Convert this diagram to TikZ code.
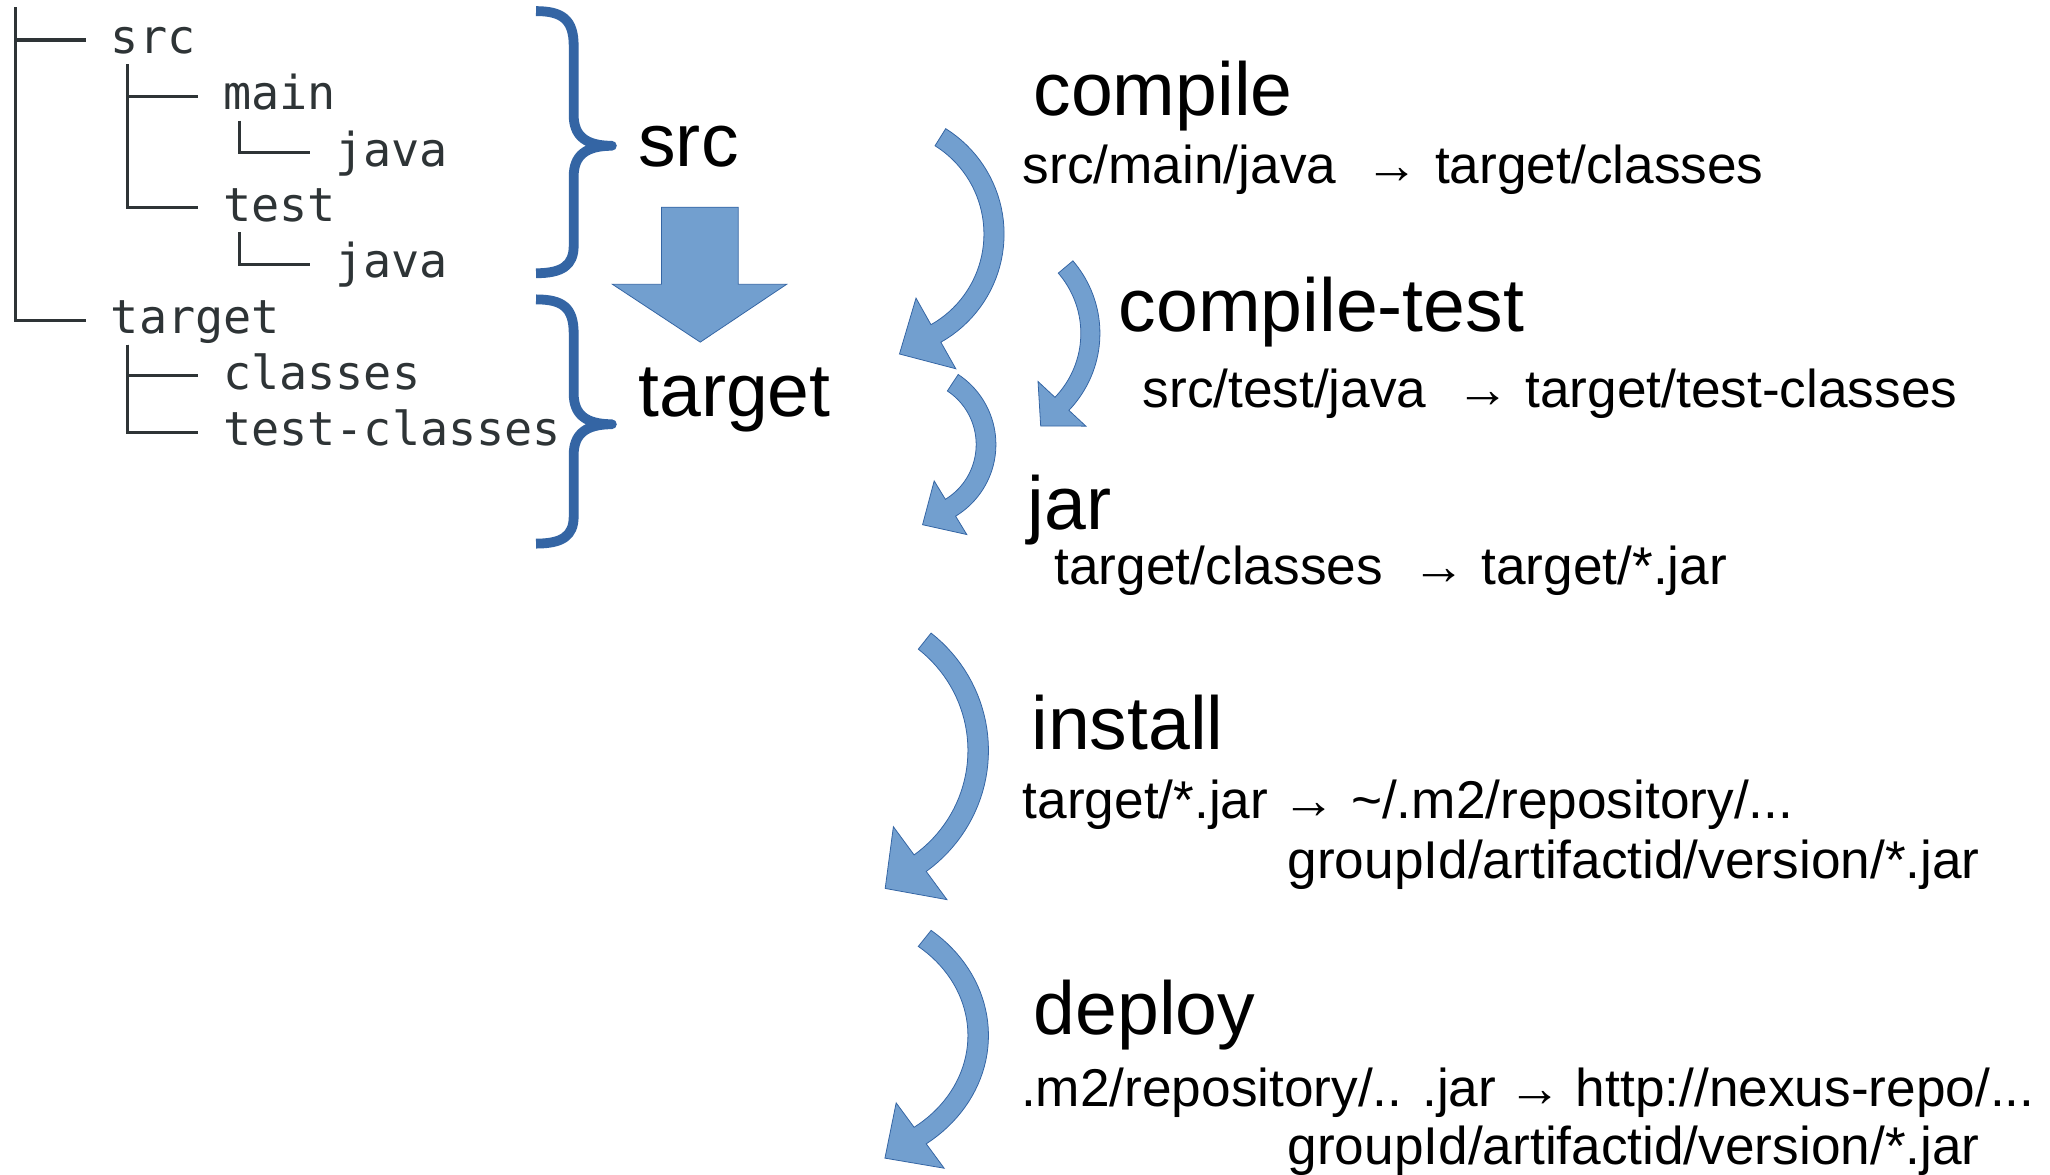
\documentclass[tikz,border=0pt]{standalone}
\usepackage{fontspec}
\setmainfont{Liberation Sans}
\newfontfamily\treefont{DejaVu Sans Mono}
\usetikzlibrary{calc}

\definecolor{treegray}{RGB}{46,52,54}
\definecolor{bracecol}{RGB}{52,101,164}
\definecolor{arrowfill}{RGB}{114,159,207}

% Curved block arrow along an elliptic arc:
% #1,#2 centre; #3,#4 radii of the midline; #5,#6 start/end angle;
% #7 shaft width; #8 head half-width; #9 head length
\newcommand\bentarrow[9]{%
  \pgfmathsetmacro\cvBx{#1+#3*cos(#6)}%
  \pgfmathsetmacro\cvBy{#2+#4*sin(#6)}%
  \pgfmathsetmacro\cvTx{-#3*sin(#6)}%
  \pgfmathsetmacro\cvTy{#4*cos(#6)}%
  \pgfmathsetmacro\cvTn{sqrt(\cvTx*\cvTx+\cvTy*\cvTy)}%
  \pgfmathsetmacro\cvPx{\cvBx+#9*\cvTx/\cvTn}%
  \pgfmathsetmacro\cvPy{\cvBy+#9*\cvTy/\cvTn}%
  \path[bent] plot[domain=#5:#6,samples=40] ({#1+(#3+#7/2)*cos(\x)},{#2+(#4+#7/2)*sin(\x)})
    -- ({#1+(#3+#8)*cos(#6)},{#2+(#4+#8)*sin(#6)})
    -- (\cvPx,\cvPy)
    -- ({#1+(#3-#8)*cos(#6)},{#2+(#4-#8)*sin(#6)})
    -- plot[domain=#6:#5,samples=40] ({#1+(#3-#7/2)*cos(\x)},{#2+(#4-#7/2)*sin(\x)})
    -- cycle;
}

\tikzset{
  every node/.style={inner sep=0pt, outer sep=0pt, anchor=base west},
  phase/.style={font=\fontsize{28.75pt}{34pt}\selectfont},
  flow/.style={font=\fontsize{20.35pt}{24pt}\selectfont},
  flowarrow/.style={font=\fontsize{20.35pt}{24pt}\selectfont, anchor=base},
  dir/.style={font=\treefont\fontsize{17.9pt}{21pt}\selectfont, text=treegray},
  branch/.style={draw=treegray, line width=1.2pt},
  brace/.style={draw=bracecol, line width=3.75pt, line join=round},
  bent/.style={fill=arrowfill, draw=bracecol, line width=0.3pt},
}

\begin{document}
\begin{tikzpicture}[x=0.5pt, y=-0.5pt]
\fill[white] (0,0) rectangle (1568,898);
\useasboundingbox (0,0) rectangle (1568,898);

% directory tree
\coordinate (root) at (12.1,5.5);
\node[dir] (src) at (84.8,41) {src};
\node[dir] (main) at (170.6,84.1) {main};
\node[dir] (mainjava) at (256.4,127) {java};
\node[dir] (test) at (170.6,169.4) {test};
\node[dir] (testjava) at (256.4,212.5) {java};
\node[dir] (target) at (84.8,255.4) {target};
\node[dir] (classes) at (170.6,297.8) {classes};
\node[dir] (testclasses) at (170.6,340.9) {test-classes};

\draw[branch] (root) |- ($(src.base west)+(-19.4,-10.4)$);
\draw[branch] (root) |- ($(target.base west)+(-19.4,-10.4)$);
\draw[branch] ($(src.base west)+(12.6,8.2)$) |- ($(main.base west)+(-19.4,-10.4)$);
\draw[branch] ($(src.base west)+(12.6,8.2)$) |- ($(test.base west)+(-19.4,-10.4)$);
\draw[branch] ($(main.base west)+(12.6,8.2)$) |- ($(mainjava.base west)+(-19.4,-10.4)$);
\draw[branch] ($(test.base west)+(12.6,8.2)$) |- ($(testjava.base west)+(-19.4,-10.4)$);
\draw[branch] ($(target.base west)+(12.6,8.2)$) |- ($(classes.base west)+(-19.4,-10.4)$);
\draw[branch] ($(target.base west)+(12.6,8.2)$) |- ($(testclasses.base west)+(-19.4,-10.4)$);

% braces grouping the two folders
\draw[brace] (410,8.5) .. controls (430,8.5) and (438.8,15) .. (438.8,35)
  -- (438.8,88) .. controls (438.8,104) and (448,111.5) .. (468,111.5)
  .. controls (448,111.5) and (438.8,119) .. (438.8,135)
  -- (438.8,188) .. controls (438.8,203) and (430,209) .. (410,209);
\draw[brace] (410,229) .. controls (430,229) and (438.8,235) .. (438.8,255)
  -- (438.8,301) .. controls (438.8,317) and (448,324.5) .. (468,324.5)
  .. controls (448,324.5) and (438.8,332) .. (438.8,348)
  -- (438.8,395) .. controls (438.8,410) and (430,415.8) .. (410,415.8);

\node[phase] (srclbl) at (488.3,127.4) {src};
\node[phase] (targetlbl) at (488.3,318.7) {target};

% block arrow src -> target
\path[bent] (506,158.5) -- (564.6,158.5) -- (564.6,217.5) -- (601.6,217.5)
  -- (535.6,261.7) -- (468.5,217.5) -- (506,217.5) -- cycle;

% lifecycle arrows
\bentarrow{673}{179}{87.3}{87.3}{-58}{60.6}{15.4}{31}{32}
\bentarrow{753}{255}{81}{79}{-40}{43}{14.6}{25}{23.5}
\bentarrow{697.6}{340}{56.6}{56.6}{-56.6}{58.7}{15.1}{24}{25}
\bentarrow{639.4}{574}{108.8}{107}{-51.4}{53.7}{15.7}{34.6}{33}
\bentarrow{639.4}{792}{108.8}{95}{-51.4}{53.7}{15.7}{31}{32}

% phases
\node[phase] (compile) at (790.5,88.3) {compile};
\node[flow] (c1) at (782.3,140.6) {src/main/java};
\node[flowarrow] (c2) at (1065,140.6) {→};
\node[flow] (c3) at (1097.7,140.6) {target/classes};

\node[phase] (ctest) at (855.8,253.5) {compile-test};
\node[flow] (t1) at (874,311.5) {src/test/java};
\node[flowarrow] (t2) at (1134.2,311.5) {→};
\node[flow] (t3) at (1166.8,311.5) {target/test-classes};

\node[phase] (jar) at (786,405.3) {jar};
\node[flow] (j1) at (806.6,447) {target/classes};
\node[flowarrow] (j2) at (1100.5,447) {→};
\node[flow] (j3) at (1133.2,447) {target/*.jar};

\node[phase] (install) at (788.9,573.4) {install};
\node[flow] (i1) at (782.3,626) {target/*.jar};
\node[flowarrow] (i2) at (1001.1,626) {→};
\node[flow] (i3) at (1033.4,626) {\symbol{126}/.m2/repository/...};
\node[flow] (i4) at (984.9,671.7) {groupId/artifactid/version/*.jar};

\node[phase] (deploy) at (790.7,791.2) {deploy};
\node[flow] (d1) at (781,846) {.m2/repository/.. .jar};
\node[flowarrow] (d2) at (1173.9,846) {→};
\node[flow] (d3) at (1205.4,846) {http://nexus-repo/...};
\node[flow] (d4) at (984.9,890.7) {groupId/artifactid/version/*.jar};
\end{tikzpicture}
\end{document}
